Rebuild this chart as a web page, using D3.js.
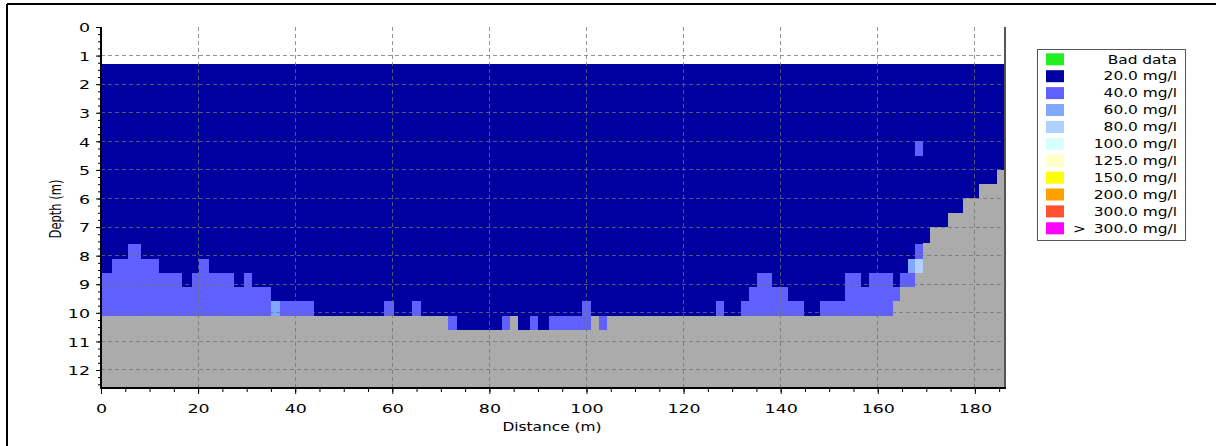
<!DOCTYPE html>
<html>
<head>
<meta charset="utf-8">
<script src="https://cdn.jsdelivr.net/npm/d3@7"></script>
<style>
  html, body { margin: 0; padding: 0; background: #fff; }
  svg text { font-family: "DejaVu Sans", Verdana, sans-serif; fill: #000; }
</style>
</head>
<body>
<svg id="chart" width="1220" height="446"></svg>
<script>
// Concentration classes shown in the legend
const legendLabels = ["Bad data", "20.0 mg/l", "40.0 mg/l", "60.0 mg/l", "80.0 mg/l", "100.0 mg/l",
                      "125.0 mg/l", "150.0 mg/l", "200.0 mg/l", "300.0 mg/l", "300.0 mg/l"];
const legendPrefix = ["", "", "", "", "", "", "", "", "", "", ">"];
const legendColors = ["#22ee22", "#0000a0", "#6060ff", "#80a8ff", "#b0d0ff", "#d8ffff",
                      "#ffffc8", "#ffff00", "#ffa000", "#ff5030", "#ff00ff"];

// Axis ticks
const depthTicks = [0, 1, 2, 3, 4, 5, 6, 7, 8, 9, 10, 11, 12];
const distanceTicks = [0, 20, 40, 60, 80, 100, 120, 140, 160, 180];

// Profile geometry
const surfaceDepth = 1.28;          // top of the measured water column (m)
const maxDistance = 186;            // end of the transect (m)
const maxDepth = 12.63;             // bottom of the plotted section (m)

// Sounding columns: start / end distance (m), bed depth (m), depth where the 40 mg/l layer starts (m)
const colStart = [0, 2.2, 5.5, 8.2, 11.9, 16.7, 18.7, 20.2, 22.2, 27.4, 29.4, 31.1, 35.0, 36.8,
                  43.8, 58.3, 60.4, 64.1, 66.0, 71.5, 73.4, 82.7, 84.2, 85.9, 88.3, 90.0, 92.2,
                  99.1, 101.0, 102.5, 104.3, 126.7, 128.3, 131.8, 133.5, 135.1, 138.3, 141.6,
                  144.9, 148.1, 153.3, 156.5, 158.2, 163.1, 164.6, 166.3, 167.7, 169.3, 170.8,
                  174.4, 177.5, 180.9, 184.5];
const colEnd = [2.2, 5.5, 8.2, 11.9, 16.7, 18.7, 20.2, 22.2, 27.4, 29.4, 31.1, 35.0, 36.8, 43.8,
                58.3, 60.4, 64.1, 66.0, 71.5, 73.4, 82.7, 84.2, 85.9, 88.3, 90.0, 92.2, 99.1,
                101.0, 102.5, 104.3, 126.7, 128.3, 131.8, 133.5, 135.1, 138.3, 141.6, 144.9,
                148.1, 153.3, 156.5, 158.2, 163.1, 164.6, 166.3, 167.7, 169.3, 170.8, 174.4,
                177.5, 180.9, 184.5, 186];
const bedDepth = [10.1, 10.1, 10.1, 10.1, 10.1, 10.1, 10.1, 10.1, 10.1, 10.1, 10.1, 10.1, 10.1, 10.1,
                  10.1, 10.1, 10.1, 10.1, 10.1, 10.6, 10.6, 10.6, 10.1, 10.6, 10.6, 10.6, 10.6,
                  10.6, 10.1, 10.6, 10.1, 10.1, 10.1, 10.1, 10.1, 10.1, 10.1, 10.1,
                  10.1, 10.1, 10.1, 10.1, 10.1, 9.6, 9.1, 9.1, 8.6, 7.55, 7.0,
                  6.5, 6.0, 5.5, 5.0];
const layerTop = [8.6, 8.1, 7.6, 8.1, 8.6, 9.1, 8.6, 8.1, 8.6, 9.1, 8.6, 9.1, 9.6, 9.6,
                  10.1, 9.6, 10.1, 9.6, 10.1, 10.1, 10.6, 10.1, 10.1, 10.6, 10.1, 10.6, 10.1,
                  9.6, 10.1, 10.1, 10.1, 9.6, 10.1, 9.6, 9.1, 8.6, 9.1, 9.6,
                  10.1, 9.6, 8.6, 9.1, 8.6, 9.1, 8.6, 8.6, 7.6, 7.55, 7.0,
                  6.5, 6.0, 5.5, 5.0];

// Isolated cells of other classes: distance from/to, depth from/to, class index
const cellX0 = [35.0, 166.3, 167.7, 167.7];
const cellX1 = [36.8, 167.7, 169.3, 169.3];
const cellD0 = [9.6, 8.1, 8.1, 4.0];
const cellD1 = [10.1, 8.6, 8.6, 4.5];
const cellClass = [3, 3, 4, 2];

const bedColor = "#ababab";
const textStretch = 1.34;           // labels are drawn with a wide horizontal stretch

const svg = d3.select("#chart");

// outer frame
svg.append("line").attr("x1", 7).attr("y1", 4).attr("x2", 1216).attr("y2", 4)
  .attr("stroke", "#000").attr("stroke-width", 2);
svg.append("line").attr("x1", 7).attr("y1", 4).attr("x2", 7).attr("y2", 446)
  .attr("stroke", "#000").attr("stroke-width", 2);

const x = d3.scaleLinear().domain([0, maxDistance]).range([101, 1004]);
const y = d3.scaleLinear().domain([0, maxDepth]).range([27, 388]);

const cols = colStart.map((s, i) => ({ s, e: colEnd[i], bed: bedDepth[i], top: layerTop[i] }));

const plot = svg.append("g").attr("shape-rendering", "crispEdges");

// 20 mg/l water column
plot.selectAll("rect.w20").data(cols).join("rect")
  .attr("x", d => x(d.s)).attr("width", d => x(d.e) - x(d.s))
  .attr("y", y(surfaceDepth)).attr("height", d => Math.max(0, y(d.bed) - y(surfaceDepth)))
  .attr("fill", legendColors[1]);

// 40 mg/l near-bed layer
plot.selectAll("rect.w40").data(cols.filter(d => d.top < d.bed)).join("rect")
  .attr("x", d => x(d.s)).attr("width", d => x(d.e) - x(d.s))
  .attr("y", d => y(d.top)).attr("height", d => y(d.bed) - y(d.top))
  .attr("fill", legendColors[2]);

// single cells of other classes
plot.selectAll("rect.cell").data(cellX0.map((v, i) => i)).join("rect")
  .attr("x", i => x(cellX0[i])).attr("width", i => x(cellX1[i]) - x(cellX0[i]))
  .attr("y", i => y(cellD0[i])).attr("height", i => y(cellD1[i]) - y(cellD0[i]))
  .attr("fill", i => legendColors[cellClass[i]]);

// river bed
plot.selectAll("rect.bed").data(cols).join("rect")
  .attr("x", d => x(d.s)).attr("width", d => x(d.e) - x(d.s))
  .attr("y", d => y(d.bed)).attr("height", d => y(maxDepth) - y(d.bed))
  .attr("fill", bedColor);

// dashed grid
const grid = svg.append("g").attr("stroke", "#707070").attr("stroke-opacity", 0.75)
  .attr("stroke-dasharray", "4,3").attr("shape-rendering", "crispEdges");
grid.selectAll("line.h").data(depthTicks.filter(d => d > 0)).join("line")
  .attr("x1", x(0)).attr("x2", x(maxDistance)).attr("y1", d => y(d)).attr("y2", d => y(d));
grid.selectAll("line.v").data(distanceTicks.filter(d => d > 0)).join("line")
  .attr("y1", y(0)).attr("y2", y(maxDepth)).attr("x1", d => x(d)).attr("x2", d => x(d));

// right edge of the plot
svg.append("line").attr("x1", 1005).attr("x2", 1005).attr("y1", y(0)).attr("y2", y(maxDepth))
  .attr("stroke", "#555").attr("stroke-width", 2);

// axes
const yAxis = d3.axisLeft(y).tickValues(depthTicks).tickSize(5).tickFormat(d3.format("d"));
const yMinor = d3.axisLeft(y).tickValues(d3.range(0, 12.6, 0.25)).tickSize(3).tickFormat("");
const xAxis = d3.axisBottom(x).tickValues(distanceTicks).tickSize(5).tickFormat(d3.format("d"));
const xMinor = d3.axisBottom(x).tickValues(d3.range(0, 186, 5)).tickSize(3).tickFormat("");

function styleAxis(g) {
  g.select(".domain").remove();
  g.selectAll("line").attr("stroke", "#000");
  g.selectAll("text").attr("font-size", 13).attr("font-family", "DejaVu Sans, Verdana, sans-serif")
    .attr("fill", "#000");
}
svg.append("g").attr("transform", "translate(101,0)").call(yMinor).call(styleAxis);
svg.append("g").attr("transform", "translate(101,0)").call(yAxis).call(styleAxis)
  .selectAll(".tick text").attr("x", -11 / textStretch).attr("dy", "0.36em")
  .attr("transform", `scale(${textStretch},1)`);
svg.append("g").attr("transform", "translate(0,389)").call(xMinor).call(styleAxis);
svg.append("g").attr("transform", "translate(0,389)").call(xAxis).call(styleAxis)
  .selectAll(".tick text").attr("y", 24.5).attr("dy", 0)
  .attr("transform", `scale(${textStretch},1)`);

svg.append("line").attr("x1", 101).attr("x2", 101).attr("y1", y(0)).attr("y2", 389)
  .attr("stroke", "#000").attr("stroke-width", 2);
svg.append("line").attr("x1", 100).attr("x2", 1006).attr("y1", 388).attr("y2", 388)
  .attr("stroke", "#000").attr("stroke-width", 2);

// axis titles
svg.append("text").attr("transform", `translate(552,431) scale(${textStretch},1)`)
  .attr("text-anchor", "middle").attr("font-size", 11.5).text("Distance (m)");
svg.append("text").attr("transform", `translate(61,209) scale(${textStretch},1) rotate(-90)`)
  .attr("text-anchor", "middle").attr("font-size", 11.5).text("Depth (m)");

// legend
const legend = svg.append("g");
legend.append("rect").attr("x", 1037.5).attr("y", 49.5).attr("width", 148).attr("height", 191)
  .attr("fill", "#fff").attr("stroke", "#555");
const rowY = d3.scalePoint().domain(d3.range(legendLabels.length)).range([59.3, 228.3]);
const rows = legend.selectAll("g.row").data(legendLabels.map((l, i) => i)).join("g")
  .attr("transform", i => `translate(0,${rowY(i)})`);
rows.append("rect").attr("x", 1046).attr("y", -6).attr("width", 18).attr("height", 12)
  .attr("fill", i => legendColors[i]);
rows.append("text").attr("transform", `translate(1177,4.2) scale(${textStretch},1)`)
  .attr("text-anchor", "end").attr("font-size", 11.5).text(i => legendLabels[i]);
rows.append("text").attr("transform", `translate(1073,4.2) scale(${textStretch},1)`)
  .attr("font-size", 11.5).text(i => legendPrefix[i]);
</script>
</body>
</html>
